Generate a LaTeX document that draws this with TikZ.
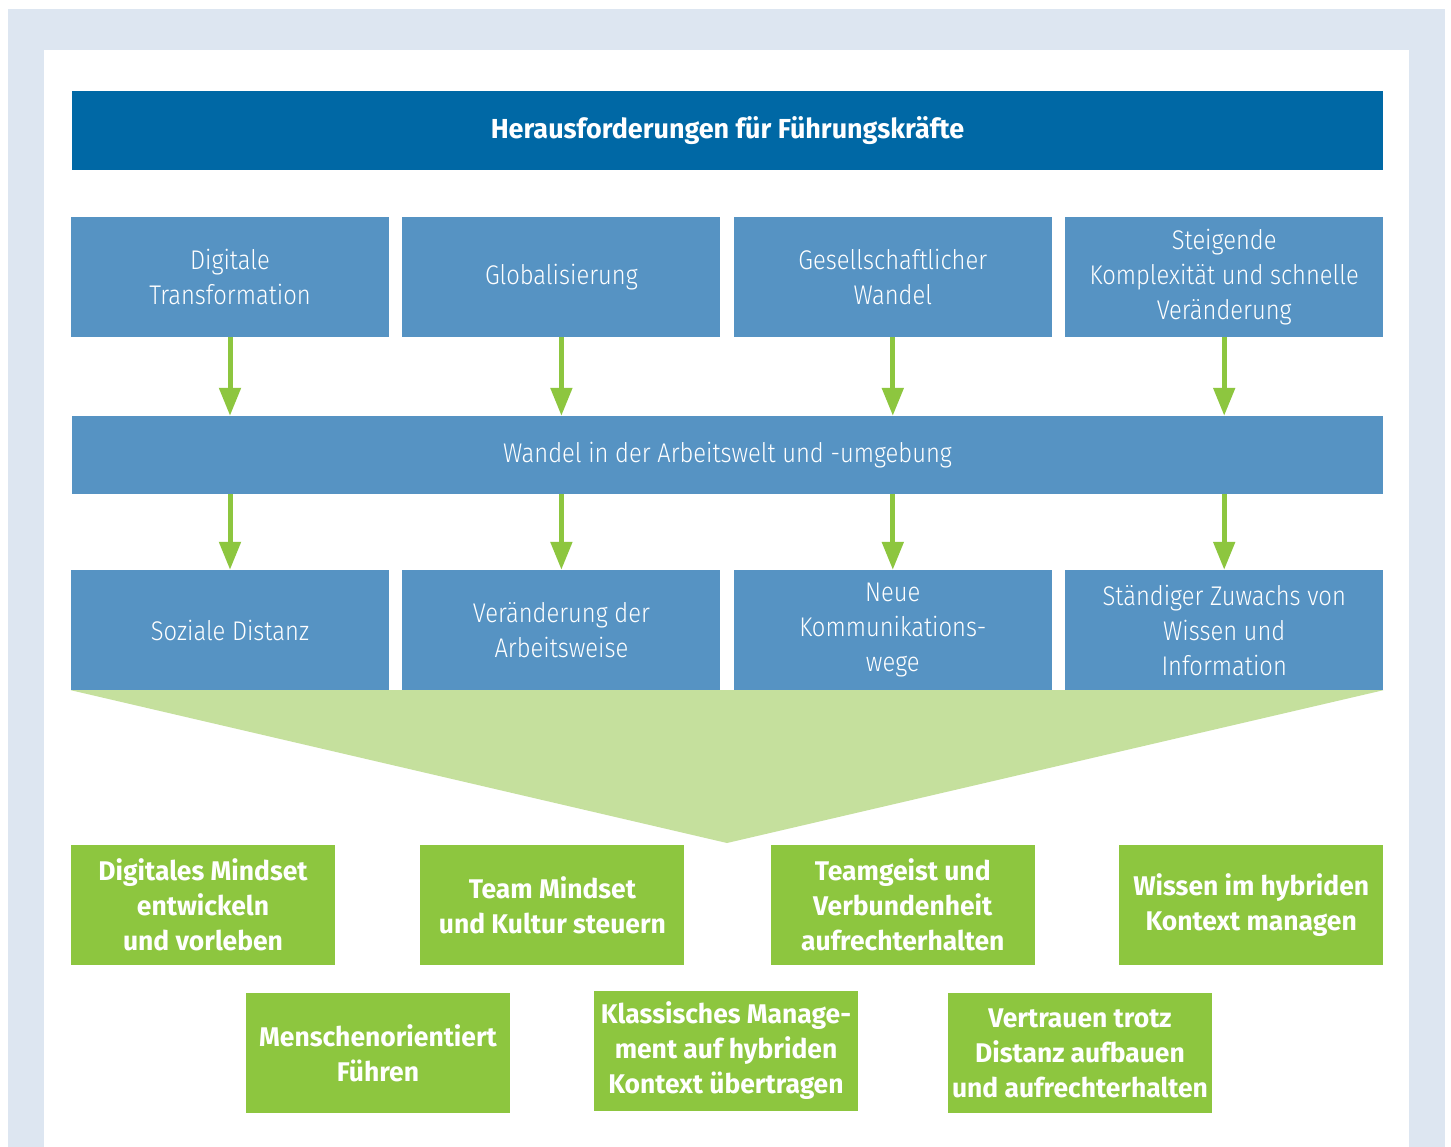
\documentclass[tikz,border=0pt]{standalone}
\usepackage{fontspec}
\setmainfont{Fira Sans}
\newfontfamily\lightfont[FakeStretch=0.88]{Fira Sans Light}
\newfontfamily\heavyfont[FakeStretch=0.98]{Fira Sans Bold}
\usetikzlibrary{positioning,arrows.meta}

\definecolor{darkblue}{HTML}{0068A5}
\definecolor{midblue}{HTML}{5693C3}
\definecolor{frameblue}{HTML}{DDE6F1}
\definecolor{leafgreen}{HTML}{8DC63F}
\definecolor{palegreen}{HTML}{C5E09D}

\tikzset{
  titlebar/.style={fill=darkblue,text=white,inner sep=0pt,minimum width=1311pt,minimum height=79pt,
    font=\heavyfont\fontsize{27.5}{35}\selectfont},
  bluebox/.style={fill=midblue,text=white,align=center,inner sep=0pt,minimum width=318pt,minimum height=120pt,
    font=\lightfont\fontsize{27}{35}\selectfont},
  greenbox/.style={fill=leafgreen,text=white,align=center,inner sep=0pt,minimum width=264pt,minimum height=120pt,
    font=\heavyfont\fontsize{27}{35}\selectfont},
  arr/.style={leafgreen,line width=5pt,-{Triangle[width=21pt,length=28pt]}}
}

\begin{document}
\begin{tikzpicture}[x=1pt,y=-1pt,node distance=13pt]
  \useasboundingbox (0,0) rectangle (1451,1147);
  \fill[frameblue] (8,9) rectangle (1445,1147);
  \fill[white] (44,50) rectangle (1409,1147);

  \node[titlebar] (head) at (727.5,130.5) {Herausforderungen für Führungskräfte};

  % drivers
  \node[bluebox] (dig) at (230,277) {Digitale\\Transformation};
  \node[bluebox,right=of dig] (glob) {Globalisierung};
  \node[bluebox,right=of glob] (ges) {Gesellschaftlicher\\Wandel};
  \node[bluebox,right=of ges] (kom) {Steigende\\Komplexität und schnelle\\Veränderung};

  \node[bluebox,minimum width=1311pt,minimum height=78pt] (wandel) at (727.5,455) {Wandel in der Arbeitswelt und -umgebung};

  % effects
  \node[bluebox] (soz) at (230,630) {Soziale Distanz};
  \node[bluebox,right=of soz] (arb) {Veränderung der\\Arbeitsweise};
  \node[bluebox,right=of arb] (kommw) {Neue\\Kommunikations-\\wege};
  \node[bluebox,right=of kommw] (wiss) {Ständiger Zuwachs von\\Wissen und\\Information};

  \foreach \a in {dig,glob,ges,kom}
    \draw[arr] (\a.south) -- (\a.south |- wandel.north);
  \foreach \a in {soz,arb,kommw,wiss}
    \draw[arr] (\a.north |- wandel.south) -- (\a.north);

  % funnel
  \coordinate (tip) at (727,843);
  \fill[palegreen] (soz.south west) -- (wiss.south east) -- (tip) -- cycle;

  % tasks
  \node[greenbox] (mind) at (203,905) {Digitales Mindset\\entwickeln\\und vorleben};
  \node[greenbox,right=85pt of mind] (team) {Team Mindset\\und Kultur steuern};
  \node[greenbox,right=86pt of team] (geist) {Teamgeist und\\Verbundenheit\\aufrechterhalten};
  \node[greenbox,right=84pt of geist] (know) {Wissen im hybriden\\Kontext managen};
  \node[greenbox] (mensch) at (378,1053) {Menschenorientiert\\Führen};
  \node[greenbox] (klass) at (726,1051) {Klassisches Manage-\\ment auf hybriden\\Kontext übertragen};
  \node[greenbox] (vert) at (1080,1053) {Vertrauen trotz\\Distanz aufbauen\\und aufrechterhalten};
\end{tikzpicture}
\end{document}
